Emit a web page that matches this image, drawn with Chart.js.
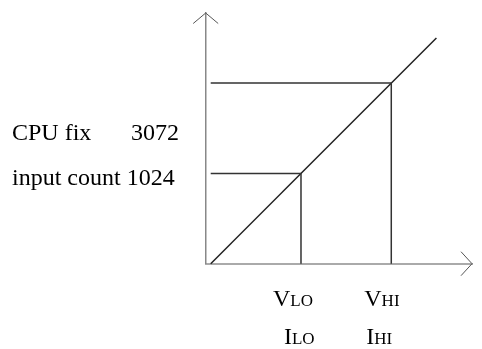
<!DOCTYPE html>
<html>
<head>
<meta charset="utf-8">
<script src="https://cdn.jsdelivr.net/npm/chart.js@4/dist/chart.umd.min.js"></script>
<style>
html,body{margin:0;padding:0;background:#fff;}
#wrap{width:482px;height:349px;position:relative;}
</style>
</head>
<body>
<div id="wrap"><canvas id="c" width="482" height="349"></canvas></div>
<script>
// Data (abstract units: origin 0, low threshold 1, high threshold 2)
const transferLine = [{x:0,y:0},{x:2.5,y:2.5}];
const lowLevel = 1;
const highLevel = 2;
const lowGuide = [{x:0,y:lowLevel},{x:lowLevel,y:lowLevel},{x:lowLevel,y:0}];
const highGuide = [{x:0,y:highLevel},{x:highLevel,y:highLevel},{x:highLevel,y:0}];
const yTextLeft = ["CPU fix", "input count 1024"];
const yTextRight = ["3072", ""];
const xTickMain = [["V","LO"],["V","HI"]];
const xTickSub = [["I","LO"],["I","HI"]];

const serif = '"Liberation Serif","Times New Roman",serif';

function drawSC(ctx, x, y, big, small){
  ctx.font = '24px ' + serif;
  ctx.fillText(big, x, y);
  const w = ctx.measureText(big).width;
  ctx.font = '17px ' + serif;
  ctx.fillText(small, x + w, y);
}

const decor = {
  id:'decor',
  afterDraw(chart){
    const ctx = chart.ctx;
    const a = chart.chartArea;
    const xs = chart.scales.x;
    ctx.save();
    // arrows
    ctx.strokeStyle = '#555';
    ctx.lineWidth = 1;
    ctx.beginPath();
    ctx.moveTo(a.left-12.5, a.top+10.5);
    ctx.lineTo(a.left, a.top);
    ctx.lineTo(a.left+12.5, a.top+10.5);
    ctx.moveTo(a.right-11, a.bottom-12);
    ctx.lineTo(a.right, a.bottom);
    ctx.lineTo(a.right-11, a.bottom+12);
    ctx.stroke();
    // left texts
    ctx.fillStyle = '#000';
    ctx.textBaseline = 'alphabetic';
    ctx.font = '24px ' + serif;
    ctx.textAlign = 'left';
    ctx.fillText(yTextLeft[0], 12, 140);
    ctx.fillText(yTextLeft[1], 12, 185);
    ctx.textAlign = 'right';
    ctx.fillText(yTextRight[0], 179, 140);
    ctx.textAlign = 'left';
    // x texts
    const pLo = xs.getPixelForValue(lowLevel);
    const pHi = xs.getPixelForValue(highLevel);
    drawSC(ctx, pLo-28, 306, xTickMain[0][0], xTickMain[0][1]);
    drawSC(ctx, pLo-17, 344, xTickSub[0][0], xTickSub[0][1]);
    drawSC(ctx, pHi-27, 306, xTickMain[1][0], xTickMain[1][1]);
    drawSC(ctx, pHi-25, 344, xTickSub[1][0], xTickSub[1][1]);
    ctx.restore();
  }
};

new Chart(document.getElementById('c'), {
  type:'scatter',
  data:{
    datasets:[
      {data:lowGuide, showLine:true, borderColor:'#333', borderWidth:1.5, pointRadius:0, clip:false, tension:0},
      {data:highGuide, showLine:true, borderColor:'#333', borderWidth:1.5, pointRadius:0, clip:false, tension:0},
      {data:transferLine, showLine:true, borderColor:'#222', borderWidth:1.5, pointRadius:0, clip:false, tension:0}
    ]
  },
  options:{
    responsive:false,
    animation:false,
    layout:{padding:{left:205.7, top:13, right:10, bottom:85.3}},
    plugins:{legend:{display:false}, tooltip:{enabled:false}},
    scales:{
      x:{type:'linear', min:-0.0554, max:2.894,
         ticks:{display:false}, grid:{display:false, drawTicks:false},
         border:{display:true, color:'#aaa', width:2}},
      y:{type:'linear', min:0, max:2.776,
         ticks:{display:false}, grid:{display:false, drawTicks:false},
         border:{display:true, color:'#888', width:1.5}}
    }
  },
  plugins:[decor]
});
</script>
</body>
</html>
